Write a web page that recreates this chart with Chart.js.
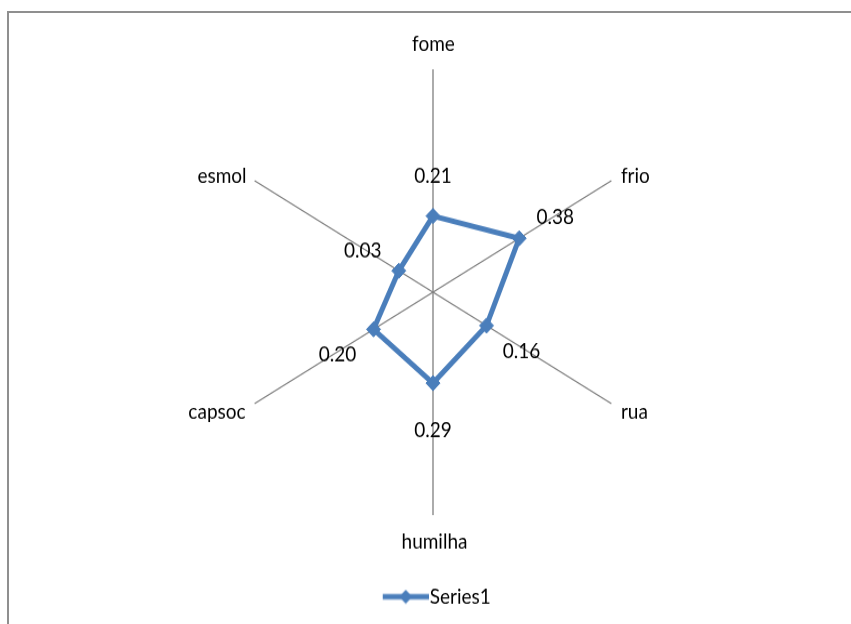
<!DOCTYPE html>
<html>
<head>
<meta charset="utf-8">
<script src="https://cdn.jsdelivr.net/npm/chart.js@4.4.0/dist/chart.umd.min.js"></script>
<style>
  html, body { margin: 0; padding: 0; background: #ffffff; overflow: hidden; width: 851px; height: 624px; }
  #frame { position: absolute; left: 7px; top: 11px; width: 900px; height: 700px;
           border-left: 2px solid #8f8f8f; border-top: 2px solid #8f8f8f; box-sizing: border-box; }
  #wrap { position: absolute; left: 0; top: 0; width: 851px; height: 577px;
          transform: scaleY(1.082); transform-origin: 0 0; }
  canvas { display: block; }
</style>
</head>
<body>
<div id="frame"></div>
<div id="wrap"><canvas id="chart" width="851" height="577"></canvas></div>
<script>
// ---- data ----
const categories = ['fome', 'frio', 'rua', 'humilha', 'capsoc', 'esmol'];
const seriesName = 'Series1';
const seriesValues = [0.21, 0.38, 0.16, 0.29, 0.20, 0.03];
const axisMin = -0.2;
const axisMax = 1.0;

// ---- styles ----
const BLUE = '#4A7EBB';
const FONT = '19px Lato, "Open Sans", sans-serif';
// category label offsets from axis tip: [align, dx, dy]
const catOffsets = [
  ['center', 0.5, -23],
  ['left', 9.5, -4],
  ['left', 9.5, 7.5],
  ['center', 1.5, 24.5],
  ['right', -9, 7.5],
  ['right', -8, -4]
];
// value label offsets from point
const valOffsets = [
  [0, -37], [36, -19], [35, 24], [0, 44], [-36, 24], [-36, -18]
];

// legend marker: line with diamond
const marker = document.createElement('canvas');
marker.width = 62; marker.height = 14;
(function () {
  const m = marker.getContext('2d');
  m.strokeStyle = BLUE; m.fillStyle = BLUE; m.lineWidth = 5;
  m.beginPath(); m.moveTo(16, 7); m.lineTo(62, 7); m.stroke();
  const cx = 39, cy = 7, r = 6.5;
  m.beginPath(); m.moveTo(cx, cy - r); m.lineTo(cx + r, cy); m.lineTo(cx, cy + r); m.lineTo(cx - r, cy); m.closePath(); m.fill();
})();

const labelPlugin = {
  id: 'radarLabels',
  afterDatasetsDraw(chart) {
    const ctx = chart.ctx;
    const scale = chart.scales.r;
    ctx.save();
    ctx.font = FONT;
    ctx.fillStyle = '#000000';
    ctx.textBaseline = 'middle';
    chart.data.labels.forEach((lab, i) => {
      const p = scale.getPointPosition(i, scale.drawingArea);
      const o = catOffsets[i];
      ctx.textAlign = o[0];
      ctx.fillText(lab, p.x + o[1], p.y + o[2]);
    });
    const meta = chart.getDatasetMeta(0);
    meta.data.forEach((pt, i) => {
      const o = valOffsets[i];
      ctx.textAlign = 'center';
      ctx.fillText(chart.data.datasets[0].data[i].toFixed(2), pt.x + o[0], pt.y + o[1]);
    });
    ctx.restore();
  }
};

Chart.defaults.font.family = 'Lato, "Open Sans", sans-serif';
Chart.defaults.font.size = 19;
Chart.defaults.color = '#000000';

new Chart(document.getElementById('chart'), {
  type: 'radar',
  data: {
    labels: categories,
    datasets: [{
      label: seriesName,
      data: seriesValues,
      borderColor: BLUE,
      backgroundColor: 'rgba(0,0,0,0)',
      fill: false,
      borderWidth: 5,
      pointStyle: 'rectRot',
      pointRadius: 7,
      pointHoverRadius: 7,
      pointBackgroundColor: BLUE,
      pointBorderColor: BLUE,
      pointBorderWidth: 1
    }]
  },
  options: {
    responsive: false,
    animation: false,
    layout: { padding: { left: 227, right: 212, top: 8, bottom: 6 } },
    scales: {
      r: {
        min: axisMin,
        max: axisMax,
        startAngle: 0,
        ticks: { display: false, stepSize: 0.2 },
        grid: { display: false },
        angleLines: { display: true, color: '#7f7f7f', lineWidth: 1.3 },
        pointLabels: { display: false }
      }
    },
    plugins: {
      tooltip: { enabled: false },
      legend: {
        position: 'bottom',
        labels: {
          usePointStyle: true,
          pointStyle: marker,
          pointStyleWidth: 45,
          padding: 10,
          color: '#000000',
          font: { family: 'Lato, "Open Sans", sans-serif', size: 19 }
        }
      }
    }
  },
  plugins: [labelPlugin]
});
</script>
</body>
</html>
